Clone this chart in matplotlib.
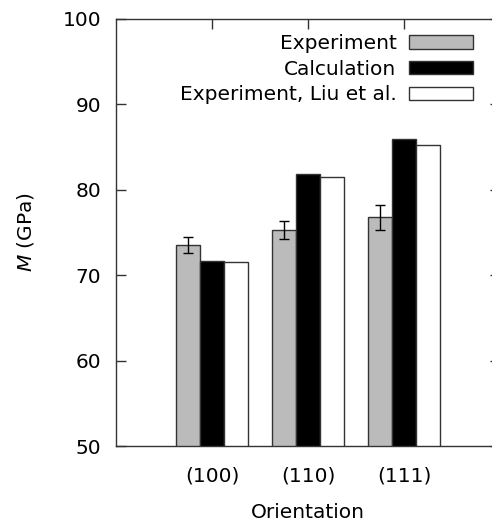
import matplotlib
matplotlib.use("Agg")
import matplotlib.pyplot as plt
import numpy as np

categories = ["(100)", "(110)", "(111)"]
experiment = [73.5, 75.3, 76.8]
experiment_err = [0.95, 1.1, 1.45]
calculation = [71.7, 81.8, 85.9]
liu = [71.6, 81.5, 85.25]
yticks = [50, 60, 70, 80, 90, 100]

plt.rcParams['font.family'] = ['DejaVu Sans']
plt.rcParams['mathtext.fontset'] = 'dejavusans'
FS = 14.5

fig = plt.figure(figsize=(4.92, 5.25), dpi=100)
ax = fig.add_axes([116/492, 79/525, 384/492, 427/525])

x = np.arange(1, len(categories) + 1)
w = 0.25
edge = '#333333'
ax.bar(x - w, experiment, w, color='#bbbbbb', edgecolor=edge, linewidth=1.0,
       label='Experiment', zorder=2)
ax.errorbar(x - w, experiment, yerr=experiment_err, fmt='none', ecolor='black',
            elinewidth=1.0, capsize=3.3, capthick=1.0, zorder=3)
ax.bar(x, calculation, w, color='black', edgecolor=edge, linewidth=1.0,
       label='Calculation', zorder=2)
ax.bar(x + w, liu, w, color='white', edgecolor=edge, linewidth=1.0,
       label='Experiment, Liu et al.', zorder=2)

ax.set_xlim(0, 4)
ax.set_ylim(50, 100)
ax.set_yticks(yticks)
ax.set_xticks(x)
ax.set_xticklabels(categories)
ax.tick_params(axis='y', direction='in', length=7, width=1.0, labelsize=FS, pad=10.5,
               right=True, color='#333333')
ax.tick_params(axis='x', direction='in', length=7, width=1.0, labelsize=FS, pad=15,
               top=True, color='#333333')
for s in ax.spines.values():
    s.set_color('#333333')
    s.set_linewidth(1.0)

ax.set_ylabel('$M$ (GPa)', fontsize=FS, labelpad=19)
ax.set_xlabel('Orientation', fontsize=FS, labelpad=12)

leg = ax.legend(loc='upper right', bbox_to_anchor=(473/492, 1 - 34/525),
                bbox_transform=fig.transFigure, frameon=False, fontsize=FS,
                markerfirst=False, handlelength=3.2, handleheight=0.63,
                handletextpad=0.6, labelspacing=0.33, borderpad=0, borderaxespad=0)
for t in leg.get_texts():
    t.set_ha('right')

fig.savefig('out.png', dpi=100)
